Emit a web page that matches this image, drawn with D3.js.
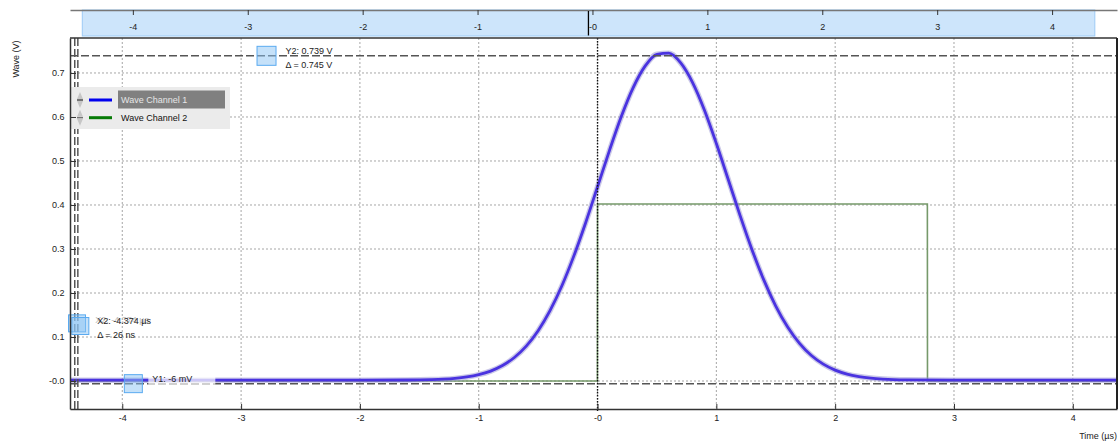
<!DOCTYPE html>
<html><head><meta charset="utf-8">
<script src="https://cdn.jsdelivr.net/npm/d3@7"></script>
<style>
html,body{margin:0;padding:0;background:#fff;}
svg{display:block;font-family:"Liberation Sans",Arial,sans-serif;}
</style></head><body>
<svg id="chart" width="1119" height="442"></svg>
<script>
// ---------- data ----------
const timeUs = [-4.44,-4.0,-3.5,-3.0,-2.5,-2.0,-1.6,-1.4,-1.3,-1.2,-1.1,-1.0,-0.9,-0.8,-0.7,-0.6,-0.5,-0.4,-0.3,-0.2,-0.1,
  0.0,0.1,0.2,0.3,0.4,0.5,0.6,0.7,0.8,0.9,1.0,1.1,1.2,1.3,1.4,1.5,1.6,1.7,1.8,1.9,2.0,2.1,2.2,2.3,2.4,2.6,3.0,3.5,4.0,4.372];
const channel1 = [0.002,0.002,0.002,0.002,0.002,0.002,0.0023,0.0032,0.0042,0.0060,0.0092,0.0144,0.0226,0.0351,0.0535,0.0793,0.1144,0.1599,0.2165,0.2838,0.3598,
  0.4414,0.5237,0.6010,0.6668,0.7156,0.7425,0.7450,0.7228,0.6782,0.6153,0.5398,0.4580,0.3758,0.2984,0.2292,0.1703,0.1226,0.0855,0.0579,0.0383,0.0247,0.0157,0.0101,0.0066,0.0045,0.0027,0.002,0.002,0.002,0.002];
const channel2Time = [-4.44,-0.001,0.0,2.776,2.777,4.372];
const channel2 = [0.0,0.0,0.4023,0.4023,0.0,0.0];
const seriesNames = ["Wave Channel 1","Wave Channel 2"];
const legendColors = ["#0000ee","#067a06"];
const xView = [-4.44, 4.372];
const yView = [-0.0636, 0.7795];
const overviewDomain = [-4.547, 4.565];
const overviewMarker = [-0.035];
const xTickValues = [-4,-3,-2,-1,0,1,2,3,4];
const xTickLabels = ["-4","-3","-2","-1","-0","1","2","3","4"];
const yTickValues = [0,0.1,0.2,0.3,0.4,0.5,0.6,0.7];
const yTickLabels = ["-0.0","0.1","0.2","0.3","0.4","0.5","0.6","0.7"];
const cursorXValues = [-4.4, -4.374];
const cursorYValues = [-0.006, 0.739];
const handleXs = [-4.381, -4.353];
const handleXLevels = [0.131, 0.125];
const handleY2At = [-2.786];
const handleY1At = [-3.907];
const labelY2 = ["Y2: 0.739 V", "\u0394 = 0.745 V"];
const labelX2 = ["X2: -4.374 \u00b5s", "\u0394 = 26 ns"];
const labelY1 = ["Y1: -6 mV"];

// ---------- layout ----------
const svg = d3.select("#chart");
const P = {left:70, right:1117, top:38, bottom:409};
const x = d3.scaleLinear().domain(xView).range([P.left, P.right]);
const y = d3.scaleLinear().domain(yView).range([P.bottom, P.top]);
const xTop = d3.scaleLinear().domain(overviewDomain).range([P.left, P.right]);
const FS = 9;

// grid
const grid = svg.append("g");
grid.selectAll("line.v").data(xTickValues).join("line")
  .attr("x1",d=>x(d)).attr("x2",d=>x(d)).attr("y1",P.top).attr("y2",P.bottom)
  .attr("stroke","#a6a6a6").attr("stroke-width",1).attr("stroke-dasharray","2,2");
grid.selectAll("line.h").data(yTickValues).join("line")
  .attr("y1",d=>y(d)).attr("y2",d=>y(d)).attr("x1",P.left).attr("x2",P.right)
  .attr("stroke","#a6a6a6").attr("stroke-width",1).attr("stroke-dasharray","2,2");

// channel 2 (step)
const line2 = d3.line().x((d,i)=>x(channel2Time[i])).y(d=>y(d));
svg.append("path").attr("d", line2(channel2)).attr("fill","none")
  .attr("stroke","#76996a").attr("stroke-width",1.6);

// channel 1 (noisy pulse drawn as a band)
const line1 = d3.line().x((d,i)=>x(timeUs[i])).y(d=>y(d)).curve(d3.curveMonotoneX);
svg.append("path").attr("d", line1(channel1)).attr("fill","none")
  .attr("stroke","#9893d2").attr("stroke-opacity",0.5).attr("stroke-width",5.5).attr("stroke-linejoin","round");
svg.append("path").attr("d", line1(channel1)).attr("fill","none")
  .attr("stroke","#4a33e0").attr("stroke-width",2.8).attr("stroke-linejoin","round");

// trigger line at 0
svg.append("line").attr("x1",x(0)).attr("x2",x(0)).attr("y1",P.top).attr("y2",P.bottom+2)
  .attr("stroke","#111").attr("stroke-width",1.4).attr("stroke-dasharray","1.5,1.5");

// cursor lines
svg.append("g").selectAll("line").data(cursorYValues).join("line")
  .attr("x1",P.left).attr("x2",P.right).attr("y1",d=>y(d)).attr("y2",d=>y(d))
  .attr("stroke","#555").attr("stroke-width",1.5).attr("stroke-dasharray","8,3");
svg.append("g").selectAll("line").data(cursorXValues).join("line")
  .attr("y1",P.top).attr("y2",P.bottom).attr("x1",d=>x(d)).attr("x2",d=>x(d))
  .attr("stroke","#555").attr("stroke-width",1.5).attr("stroke-dasharray","8,3");

// handles
function handle(cx, cy, s){
  svg.append("rect").attr("x",cx-s/2).attr("y",cy-s/2).attr("width",s).attr("height",s)
    .attr("fill","#8cc4f4").attr("fill-opacity",0.5).attr("stroke","#5aaaf0").attr("stroke-width",1);
}
handle(x(handleY2At[0]), y(cursorYValues[1]), 19);
handle(x(handleY1At[0]), y(cursorYValues[0]), 18);
handleXs.forEach((t,i)=>handle(x(t), y(handleXLevels[i]), 17));

// cursor labels
const txt = (xx,yy,s,fill)=>svg.append("text").attr("x",xx).attr("y",yy).attr("font-size",FS).attr("fill",fill||"#222").text(s);
const y2x = x(handleY2At[0]) + 19;
txt(y2x, y(cursorYValues[1]) - 2, labelY2[0]);
txt(y2x, y(cursorYValues[1]) + 12.5, labelY2[1]);
const y1x = x(handleY1At[0]) + 19;
svg.append("rect").attr("x",y1x-4).attr("y",y(cursorYValues[0])-8).attr("width",67).attr("height",9)
  .attr("fill","#fff").attr("fill-opacity",0.72);
txt(y1x, y(cursorYValues[0]) - 1.5, labelY1[0]);
const x2x = x(handleXs[1]) + 17;
txt(x2x-2, y(handleXLevels[0]) - 0.5, labelX2[0], "#bbb");
txt(x2x, y(handleXLevels[0]) + 0.5, labelX2[0]);
txt(x2x, y(handleXLevels[0]) + 14.5, labelX2[1]);

// legend
const lg = svg.append("g");
lg.append("rect").attr("x",70).attr("y",87).attr("width",160).attr("height",42).attr("fill","#ebebeb");
lg.append("rect").attr("x",118).attr("y",90.5).attr("width",107).attr("height",18).attr("fill","#808080");
seriesNames.forEach((nm,i)=>{
  const cy = 100 + i*17.7;
  lg.append("path").attr("d",`M80,${cy-8}L83,${cy-1}L77,${cy-1}Z M77,${cy+1}L83,${cy+1}L80,${cy+8}Z`).attr("fill","#c6c6c6");
  lg.append("line").attr("x1",77).attr("x2",83).attr("y1",cy).attr("y2",cy).attr("stroke", i===0?"#222":"#666").attr("stroke-width",1.2);
  lg.append("line").attr("x1",89).attr("x2",112).attr("y1",cy).attr("y2",cy).attr("stroke",legendColors[i]).attr("stroke-width",3);
  lg.append("text").attr("x",121).attr("y",cy+3.2).attr("font-size",FS).attr("fill", i===0?"#e6e6e6":"#111").text(nm);
});

// overview band (top)
svg.append("rect").attr("x",xTop(xView[0])).attr("y",10).attr("width",xTop(xView[1])-xTop(xView[0])).attr("height",26)
  .attr("fill","#cde5fb").attr("stroke","#9ccbf5").attr("stroke-width",1);
const topMinor = d3.range(-45,46).map(i=>i/10);
const gTop = svg.append("g").attr("transform","translate(0,10)");
gTop.call(d3.axisBottom(xTop).tickValues(topMinor).tickSize(5).tickSizeOuter(0).tickFormat(""));
gTop.call(d3.axisBottom(xTop).tickValues(xTickValues).tickSize(5).tickSizeOuter(0).tickPadding(9).tickFormat((d,i)=>xTickLabels[i]));
gTop.selectAll(".domain").attr("stroke","#777").attr("stroke-width",1.5);
gTop.selectAll(".tick line").attr("stroke","#333");
gTop.selectAll("text").attr("font-size",FS).attr("fill","#222").attr("font-family","Liberation Sans, Arial, sans-serif");
svg.append("line").attr("x1",xTop(overviewMarker[0])).attr("x2",xTop(overviewMarker[0])).attr("y1",11).attr("y2",35.5)
  .attr("stroke","#000").attr("stroke-width",1.3);

// frame
svg.append("line").attr("x1",P.left).attr("x2",P.right).attr("y1",P.top).attr("y2",P.top).attr("stroke","#333").attr("stroke-width",1.5);
svg.append("line").attr("x1",P.right).attr("x2",P.right).attr("y1",P.top).attr("y2",P.bottom).attr("stroke","#222").attr("stroke-width",2);

// bottom axis
const xMinor = d3.range(-44,44).map(i=>i/10);
const gx = svg.append("g").attr("transform",`translate(0,${P.bottom})`);
gx.call(d3.axisBottom(x).tickValues(xMinor).tickSize(-5).tickSizeOuter(0).tickFormat(""));
gx.call(d3.axisBottom(x).tickValues(xTickValues).tickSize(-5).tickSizeOuter(0).tickPadding(6).tickFormat((d,i)=>xTickLabels[i]));
gx.selectAll(".domain").attr("stroke","#333").attr("stroke-width",1.5);
gx.selectAll(".tick line").attr("stroke","#333");
gx.selectAll("text").attr("font-size",FS).attr("fill","#222").attr("font-family","Liberation Sans, Arial, sans-serif");

// left axis
const yMinor = d3.range(-6,78).map(i=>i/100);
const gy = svg.append("g").attr("transform",`translate(${P.left},0)`);
gy.call(d3.axisLeft(y).tickValues(yMinor).tickSize(-5).tickSizeOuter(0).tickFormat(""));
gy.call(d3.axisLeft(y).tickValues(yTickValues).tickSize(-6).tickSizeOuter(0).tickPadding(5.5).tickFormat((d,i)=>yTickLabels[i]));
gy.selectAll(".domain").attr("stroke","#333").attr("stroke-width",1.5);
gy.selectAll(".tick line").attr("stroke","#333");
gy.selectAll("text").attr("font-size",FS).attr("fill","#222").attr("font-family","Liberation Sans, Arial, sans-serif");

// axis titles
svg.append("text").attr("transform","translate(19,59) rotate(-90)").attr("text-anchor","middle")
  .attr("font-size",FS).attr("fill","#222").text("Wave (V)");
svg.append("text").attr("x",1117).attr("y",439).attr("text-anchor","end")
  .attr("font-size",FS).attr("fill","#222").text("Time (\u00b5s)");
</script>
</body></html>
